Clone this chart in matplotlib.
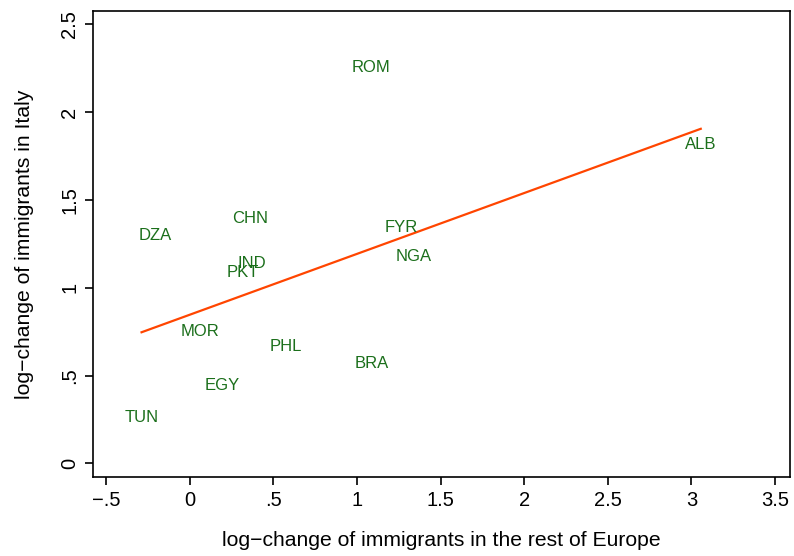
import numpy as np
import matplotlib.pyplot as plt

plt.rcParams['font.family'] = ['Liberation Sans', 'DejaVu Sans']

# > Data
countries = ['ROM', 'CHN', 'DZA', 'IND', 'PKT', 'FYR', 'NGA',
             'ALB', 'MOR', 'PHL', 'BRA', 'EGY', 'TUN']
europe_change = [1.083, 0.363, -0.207, 0.373, 0.319, 1.262, 1.340,
                 3.056, 0.060, 0.572, 1.087, 0.191, -0.289]
italy_change = [2.254, 1.394, 1.300, 1.138, 1.085, 1.341, 1.176,
                1.816, 0.753, 0.664, 0.569, 0.444, 0.260]

x_ticks = [-0.5, 0, 0.5, 1, 1.5, 2, 2.5, 3, 3.5]
x_tick_labels = ['\u2212.5', '0', '.5', '1', '1.5', '2', '2.5', '3', '3.5']
y_ticks = [0, 0.5, 1, 1.5, 2, 2.5]
y_tick_labels = ['0', '.5', '1', '1.5', '2', '2.5']

x = np.array(europe_change)
y = np.array(italy_change)

fig = plt.figure(figsize=(7.94, 5.56), dpi=100)
ax = fig.add_axes([0.117, 0.142, 0.878, 0.838])

# country labels, centred on the points
for name, xi, yi in zip(countries, x, y):
    ax.text(xi, yi, name, color='#1b6f1b', fontsize=12,
            ha='center', va='center')

# linear fit
m, c = np.polyfit(x, y, 1)
xs = np.array([x.min(), x.max()])
ax.plot(xs, m * xs + c, color='#ff4500', lw=1.6)

ax.set_xlim(-0.58, 3.59)
ax.set_ylim(-0.078, 2.575)
ax.set_xticks(x_ticks)
ax.set_xticklabels(x_tick_labels)
ax.set_yticks(y_ticks)
ax.set_yticklabels(y_tick_labels, rotation=90, va='center')
ax.tick_params(direction='out', length=6, width=1.2, labelsize=14.5, pad=4)

for sp in ax.spines.values():
    sp.set_linewidth(1.2)

ax.set_xlabel('log\u2212change of immigrants in the rest of Europe',
              fontsize=15.2, labelpad=15)
ax.set_ylabel('log\u2212change of immigrants in Italy', fontsize=15.2,
              labelpad=19)

plt.savefig('out.png', dpi=100)
